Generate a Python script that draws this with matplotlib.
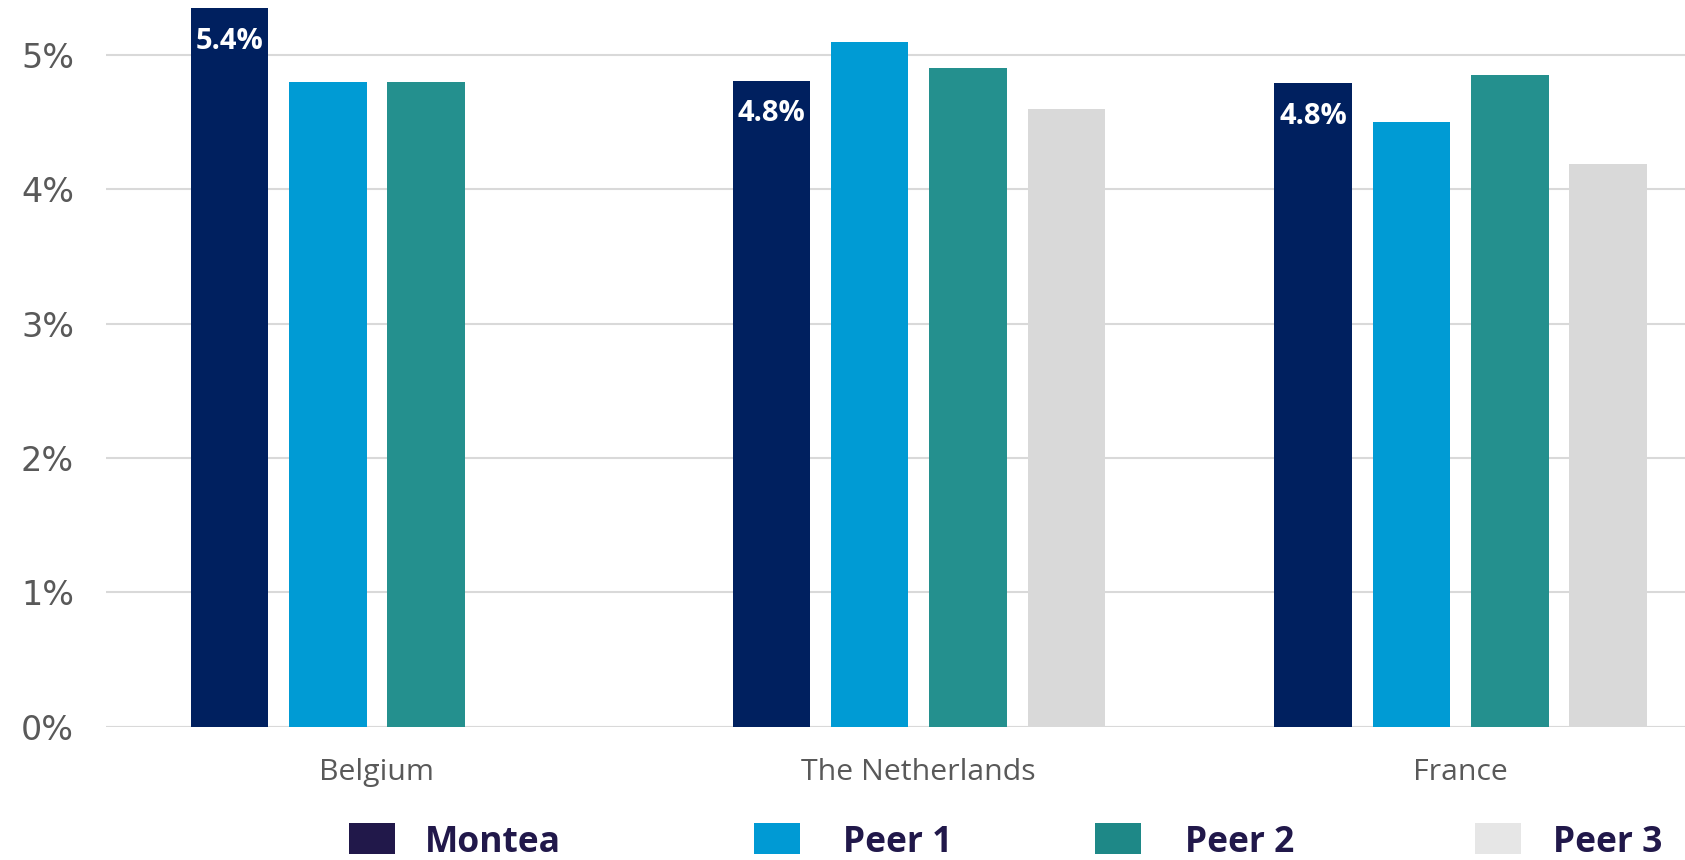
import matplotlib
matplotlib.use("Agg")
import matplotlib.pyplot as plt
from matplotlib.patches import Rectangle
import numpy as np

categories = ["Belgium", "The Netherlands", "France"]
series_names = ["Montea", "Peer 1", "Peer 2", "Peer 3"]
montea = [5.35, 4.81, 4.79]
peer1 = [4.80, 5.10, 4.50]
peer2 = [4.80, 4.90, 4.85]
peer3 = [np.nan, 4.60, 4.19]
montea_labels = ["5.4%", "4.8%", "4.8%"]
yticks = [0, 1, 2, 3, 4, 5]
ytick_labels = ["0%", "1%", "2%", "3%", "4%", "5%"]

bar_colors = ["#00205F", "#009BD4", "#24908E", "#D9D9D9"]
legend_colors = ["#21184A", "#009AD4", "#1E8887", "#E6E6E6"]

W, H = 1685, 860
fig = plt.figure(figsize=(W / 100, H / 100), dpi=100)
ax = fig.add_axes([106 / W, 133.5 / H, 1 - 106 / W, 726.5 / H])

x = np.arange(len(categories))
slot = 0.1815
width = 0.143
all_series = [montea, peer1, peer2, peer3]
for i, (vals, col) in enumerate(zip(all_series, bar_colors)):
    offs = (i - 1.5) * slot
    ax.bar(x + offs, vals, width=width, color=col, zorder=3, linewidth=0)

for xi, v, lab in zip(x, montea, montea_labels):
    ax.annotate(lab, xy=(xi - 1.5 * slot, v), xytext=(0, -24), textcoords="offset points",
                ha="center", va="center", color="white", fontsize=21,
                fontweight="bold", family="Open Sans", zorder=4)

ax.set_xlim(-0.5, 2.414)
ax.set_ylim(0, 5.41)
ax.set_yticks(yticks)
ax.set_yticklabels(ytick_labels, fontsize=24, color="#595959", family="DejaVu Sans")
ax.set_xticks(x)
ax.set_xticklabels(categories, fontsize=21.8, color="#595959", family="Open Sans")
ax.tick_params(axis="y", length=0, pad=23)
ax.tick_params(axis="x", length=0, pad=23)
for s in ax.spines.values():
    s.set_visible(False)
ax.grid(axis="y", color="#D9D9D9", linewidth=1.5, zorder=0)
ax.set_axisbelow(True)
ax.axhline(0, color="#D9D9D9", linewidth=2.2, zorder=2)

# legend, drawn manually to follow the reference spacing
leg_square_x = [349, 754, 1095, 1475]
leg_text_x = [425, 843, 1185, 1553]
sq_w, sq_h, sq_top = 46, 31, 823
for name, col, sx, tx in zip(series_names, legend_colors, leg_square_x, leg_text_x):
    fig.add_artist(Rectangle((sx / W, (H - sq_top - sq_h) / H), sq_w / W, sq_h / H,
                             transform=fig.transFigure, color=col, linewidth=0))
    fig.text(tx / W, (H - 843) / H, name, ha="left", va="center", fontsize=25.5,
             fontweight="bold", color="#21184A", family="Open Sans")

fig.savefig("out.png", dpi=100)
